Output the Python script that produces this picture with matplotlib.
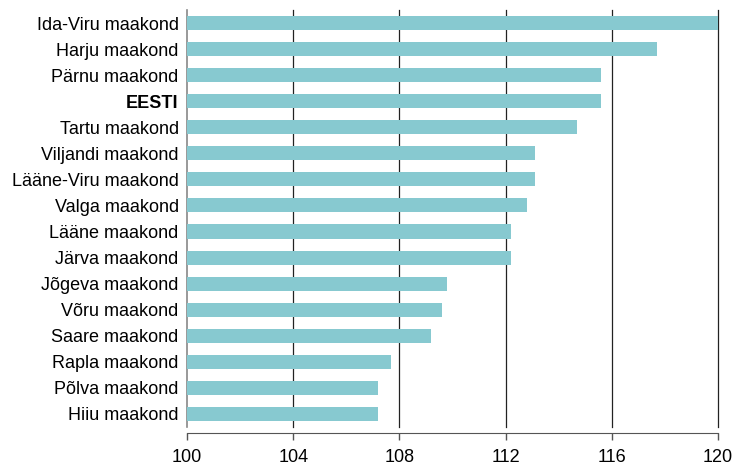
import matplotlib.pyplot as plt

plt.rcParams['font.family'] = ['Liberation Sans', 'DejaVu Sans']

# counties, top to bottom
regions = ['Ida-Viru maakond', 'Harju maakond', 'Pärnu maakond', 'EESTI',
           'Tartu maakond', 'Viljandi maakond', 'Lääne-Viru maakond',
           'Valga maakond', 'Lääne maakond', 'Järva maakond', 'Jõgeva maakond',
           'Võru maakond', 'Saare maakond', 'Rapla maakond', 'Põlva maakond',
           'Hiiu maakond']
values = [120.0, 117.7, 115.6, 115.6, 114.7, 113.1, 113.1, 112.8, 112.2,
          112.2, 109.8, 109.6, 109.2, 107.7, 107.2, 107.2]
xticks = [100, 104, 108, 112, 116, 120]

fig = plt.figure(figsize=(7.34, 4.67), dpi=100)
ax = fig.add_axes([0.2548, 0.0857, 0.7234, 0.8929])

y = range(len(regions))
ax.barh(y, [v - 100 for v in values], left=100, height=0.54,
        color='#87C9D0', zorder=3)

ax.set_xlim(100, 120)
ax.set_ylim(len(regions) - 0.5, -0.5)
ax.set_xticks(xticks)
ax.set_yticks(list(y))
ax.set_yticklabels(regions)
for lbl in ax.get_yticklabels():
    if lbl.get_text() == 'EESTI':
        lbl.set_fontweight('bold')

for t in xticks[1:]:
    ax.axvline(t, color='#222222', lw=0.9, zorder=1, clip_on=False)

for s in ['top', 'right']:
    ax.spines[s].set_visible(False)
ax.spines['left'].set_color('#888888')
ax.spines['left'].set_linewidth(1.2)
ax.spines['bottom'].set_color('#555555')
ax.spines['bottom'].set_position(('outward', 4))
ax.spines['bottom'].set_bounds(100, 120)

ax.tick_params(axis='y', length=0, pad=6, labelsize=13)
ax.tick_params(axis='x', length=5, width=1, color='#555555', pad=7, labelsize=13)

fig.savefig('out.png', dpi=100)
